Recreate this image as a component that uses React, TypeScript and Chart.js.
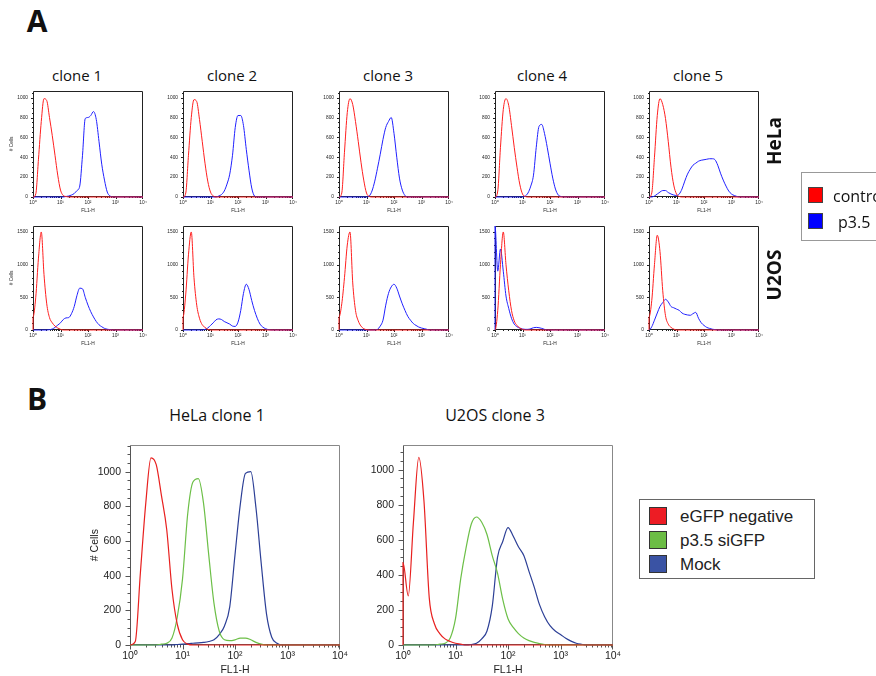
import React, { useEffect, useRef } from 'react';
import { Chart, registerables } from 'chart.js';

Chart.register(...registerables);

// ---------- shared axes ----------
// FL1-H channel values (log grid, 0.1 decade); first entry repeats 10^0 for the left-edge baseline.
const FL1_CHANNELS = [
  1,
  1, 1.26, 1.58, 2, 2.51, 3.16, 3.98, 5.01, 6.31, 7.94,
  10, 12.6, 15.8, 20, 25.1, 31.6, 39.8, 50.1, 63.1, 79.4,
  100, 126, 158, 200, 251, 316, 398, 501, 631, 794,
  1000, 1259, 1585, 1995, 2512, 3162, 3981, 5012, 6310, 7943,
  10000,
];
const X_TICK_VALUES = [1, 10, 100, 1000, 10000];
const X_TICK_LABELS = ['10⁰', '10¹', '10²', '10³', '10⁴'];
const HELA_Y_TICKS = [0, 200, 400, 600, 800, 1000];
const U2OS_Y_TICKS = [0, 500, 1000, 1500];
const B_Y_TICKS = [0, 200, 400, 600, 800, 1000];
const CLONES = ['clone 1', 'clone 2', 'clone 3', 'clone 4', 'clone 5'];

// ---------- panel A : HeLa ----------
const helaC1Control = [0,
  0, 30, 380, 760, 990, 970, 800, 620, 420, 220,
  70, 15, 5, 0, 0, 0, 0, 0, 0, 0,
  0, 0, 0, 0, 0, 0, 0, 0, 0, 0,
  0, 0, 0, 0, 0, 0, 0, 0, 0, 0,
  0];
const helaC1P35 = [0,
  0, 0, 0, 0, 0, 0, 0, 0, 0, 0,
  0, 0, 5, 10, 20, 35, 65, 110, 420, 790,
  800, 820, 860, 780, 560, 330, 170, 50, 10, 0,
  0, 0, 0, 0, 0, 0, 0, 0, 0, 0,
  0];
const helaC2Control = [0,
  0, 40, 420, 800, 980, 960, 780, 560, 340, 160,
  50, 10, 0, 0, 0, 0, 0, 0, 0, 0,
  0, 0, 0, 0, 0, 0, 0, 0, 0, 0,
  0, 0, 0, 0, 0, 0, 0, 0, 0, 0,
  0];
const helaC2P35 = [0,
  0, 0, 0, 0, 0, 0, 0, 0, 0, 0,
  0, 0, 0, 10, 25, 60, 130, 230, 420, 700,
  820, 820, 720, 480, 270, 90, 10, 0, 0, 0,
  0, 0, 0, 0, 0, 0, 0, 0, 0, 0,
  0];
const helaC3Control = [0,
  0, 40, 450, 850, 990, 930, 760, 560, 350, 170,
  40, 5, 0, 0, 0, 0, 0, 0, 0, 0,
  0, 0, 0, 0, 0, 0, 0, 0, 0, 0,
  0, 0, 0, 0, 0, 0, 0, 0, 0, 0,
  0];
const helaC3P35 = [0,
  0, 0, 0, 0, 0, 0, 0, 0, 0, 0,
  0, 10, 60, 160, 290, 430, 580, 700, 760, 800,
  640, 400, 190, 70, 15, 0, 0, 0, 0, 0,
  0, 0, 0, 0, 0, 0, 0, 0, 0, 0,
  0];
const helaC4Control = [0,
  0, 60, 500, 880, 990, 920, 720, 500, 300, 130,
  30, 5, 0, 0, 0, 0, 0, 0, 0, 0,
  0, 0, 0, 0, 0, 0, 0, 0, 0, 0,
  0, 0, 0, 0, 0, 0, 0, 0, 0, 0,
  0];
const helaC4P35 = [0,
  0, 0, 0, 0, 0, 0, 0, 0, 0, 0,
  0, 10, 40, 110, 220, 500, 710, 730, 640, 500,
  340, 190, 80, 20, 5, 0, 0, 0, 0, 0,
  0, 0, 0, 0, 0, 0, 0, 0, 0, 0,
  0];
const helaC5Control = [0,
  0, 40, 400, 820, 990, 930, 790, 560, 300, 120,
  30, 5, 0, 0, 0, 0, 0, 0, 0, 0,
  0, 0, 0, 0, 0, 0, 0, 0, 0, 0,
  0, 0, 0, 0, 0, 0, 0, 0, 0, 0,
  0];
const helaC5P35 = [0,
  0, 0, 10, 30, 50, 65, 65, 45, 30, 20,
  15, 30, 80, 160, 230, 280, 320, 340, 360, 370,
  375, 380, 385, 385, 375, 320, 240, 170, 110, 60,
  30, 15, 5, 0, 0, 0, 0, 0, 0, 0,
  0];

// ---------- panel A : U2OS ----------
const u2osC1Control = [0,
  200, 500, 1100, 1500, 850, 400, 190, 110, 60, 30,
  10, 0, 0, 0, 0, 0, 0, 0, 0, 0,
  0, 0, 0, 0, 0, 0, 0, 0, 0, 0,
  0, 0, 0, 0, 0, 0, 0, 0, 0, 0,
  0];
const u2osC1P35 = [0,
  0, 0, 0, 0, 0, 0, 5, 15, 40, 75,
  110, 160, 185, 190, 250, 360, 530, 640, 630, 500,
  380, 280, 200, 130, 80, 50, 25, 12, 5, 0,
  0, 0, 0, 0, 0, 0, 0, 0, 0, 0,
  0];
const u2osC2Control = [0,
  200, 550, 1150, 1500, 800, 380, 180, 80, 40, 10,
  0, 0, 0, 0, 0, 0, 0, 0, 0, 0,
  0, 0, 0, 0, 0, 0, 0, 0, 0, 0,
  0, 0, 0, 0, 0, 0, 0, 0, 0, 0,
  0];
const u2osC2P35 = [0,
  0, 0, 0, 0, 0, 0, 0, 0, 10, 30,
  70, 110, 155, 170, 160, 130, 110, 90, 60, 55,
  120, 300, 560, 700, 620, 450, 300, 180, 90, 45,
  20, 5, 0, 0, 0, 0, 0, 0, 0, 0,
  0];
const u2osC3Control = [0,
  200, 400, 800, 1300, 1500, 720, 300, 140, 60, 20,
  5, 0, 0, 0, 0, 0, 0, 0, 0, 0,
  0, 0, 0, 0, 0, 0, 0, 0, 0, 0,
  0, 0, 0, 0, 0, 0, 0, 0, 0, 0,
  0];
const u2osC3P35 = [0,
  0, 0, 0, 0, 0, 0, 0, 0, 0, 0,
  0, 0, 0, 0, 10, 60, 150, 380, 560, 660,
  700, 640, 520, 400, 300, 210, 150, 100, 70, 45,
  30, 20, 10, 0, 0, 0, 0, 0, 0, 0,
  0];
const u2osC4Control = [0,
  0, 300, 1000, 1500, 1000, 600, 300, 140, 70, 30,
  10, 0, 0, 0, 0, 0, 0, 0, 0, 0,
  0, 0, 0, 0, 0, 0, 0, 0, 0, 0,
  0, 0, 0, 0, 0, 0, 0, 0, 0, 0,
  0];
const u2osC4P35 = [0,
  1590, 900, 1240, 900, 520, 330, 180, 90, 50, 30,
  15, 10, 10, 20, 35, 40, 35, 25, 10, 0,
  0, 0, 0, 0, 0, 0, 0, 0, 0, 0,
  0, 0, 0, 0, 0, 0, 0, 0, 0, 0,
  0];
const u2osC5Control = [0,
  200, 450, 1000, 1450, 1200, 600, 220, 90, 40, 15,
  0, 0, 0, 0, 0, 0, 0, 0, 0, 0,
  0, 0, 0, 0, 0, 0, 0, 0, 0, 0,
  0, 0, 0, 0, 0, 0, 0, 0, 0, 0,
  0];
const u2osC5P35 = [0,
  0, 50, 150, 260, 360, 420, 470, 430, 360, 340,
  320, 300, 260, 240, 230, 225, 250, 270, 180, 110,
  70, 40, 25, 12, 6, 0, 0, 0, 0, 0,
  0, 0, 0, 0, 0, 0, 0, 0, 0, 0,
  0];

// ---------- panel B ----------
const bHelaNegative = [0,
  0, 20, 420, 820, 1080, 1040, 860, 665, 320, 120,
  30, 5, 0, 0, 0, 0, 0, 0, 0, 0,
  0, 0, 0, 0, 0, 0, 0, 0, 0, 0,
  0, 0, 0, 0, 0, 0, 0, 0, 0, 0,
  0];
const bHelaSiGFP = [0,
  0, 0, 0, 0, 0, 0, 5, 10, 40, 160,
  380, 760, 940, 960, 820, 520, 240, 80, 30, 25,
  30, 40, 40, 30, 15, 5, 0, 0, 0, 0,
  0, 0, 0, 0, 0, 0, 0, 0, 0, 0,
  0];
const bHelaMock = [0,
  0, 0, 0, 0, 0, 0, 0, 0, 0, 3,
  5, 8, 10, 12, 15, 20, 30, 60, 110, 220,
  520, 810, 990, 1000, 790, 470, 180, 45, 10, 0,
  0, 0, 0, 0, 0, 0, 0, 0, 0, 0,
  0];
const bU2osNegative = [0,
  470, 280, 700, 1070, 820, 270, 120, 65, 35, 20,
  10, 5, 0, 0, 0, 0, 0, 0, 0, 0,
  0, 0, 0, 0, 0, 0, 0, 0, 0, 0,
  0, 0, 0, 0, 0, 0, 0, 0, 0, 0,
  0];
const bU2osSiGFP = [0,
  0, 0, 0, 0, 0, 0, 0, 5, 10, 40,
  150, 380, 550, 690, 730, 700, 630, 510, 410, 260,
  150, 100, 65, 40, 25, 15, 8, 3, 0, 0,
  0, 0, 0, 0, 0, 0, 0, 0, 0, 0,
  0];
const bU2osMock = [0,
  0, 0, 0, 0, 0, 0, 0, 0, 0, 0,
  0, 0, 0, 3, 10, 35, 80, 220, 500, 590,
  670, 620, 560, 510, 420, 330, 230, 160, 110, 80,
  60, 38, 22, 10, 4, 0, 0, 0, 0, 0,
  0];

const HELA_CONTROL = [helaC1Control, helaC2Control, helaC3Control, helaC4Control, helaC5Control];
const HELA_P35 = [helaC1P35, helaC2P35, helaC3P35, helaC4P35, helaC5P35];
const U2OS_CONTROL = [u2osC1Control, u2osC2Control, u2osC3Control, u2osC4Control, u2osC5Control];
const U2OS_P35 = [u2osC1P35, u2osC2P35, u2osC3P35, u2osC4P35, u2osC5P35];

// ---------- layout / style ----------
const SANS = '"Liberation Sans", Arial, sans-serif';
const HUMANIST = '"Open Sans", "Noto Sans", sans-serif';
const A_RED = '#ff1f1f';
const A_BLUE = '#2020ff';
const B_RED = '#e8201f';
const B_GREEN = '#6cbf47';
const B_BLUE = '#2c3f96';
const MINI_LEFTS = [33, 183, 339, 495, 649];
const TITLE_CENTERS = [77, 232, 388, 542, 698];

const frameTicks = {
  id: 'frameTicks',
  beforeDatasetsDraw(chart: any, _args: any, o: any) {
    const { ctx, chartArea: a, scales } = chart;
    const xs = scales.x;
    const ys = scales.y;
    const L = Math.round(a.left) + 0.5;
    const R = Math.round(a.right) - 0.5;
    const T = Math.round(a.top) + 0.5;
    const B = Math.round(a.bottom) - 0.5;
    ctx.save();
    ctx.lineWidth = 1;
    ctx.strokeStyle = o.frameColor;
    ctx.beginPath();
    ctx.moveTo(L, T); ctx.lineTo(R, T); ctx.lineTo(R, B);
    ctx.stroke();
    ctx.strokeStyle = o.axisColor;
    ctx.beginPath();
    ctx.moveTo(L, T); ctx.lineTo(L, B); ctx.lineTo(R, B);
    for (let k = 0; k < 4; k++) {
      for (let m = 1; m <= 9; m++) {
        const px = Math.round(xs.getPixelForValue(m * Math.pow(10, k))) + 0.5;
        const len = m === 1 ? o.major : o.minor;
        ctx.moveTo(px, B); ctx.lineTo(px, B + len);
      }
    }
    const pxEnd = Math.round(xs.getPixelForValue(10000)) - 0.5;
    ctx.moveTo(pxEnd, B); ctx.lineTo(pxEnd, B + o.major);
    for (let v = 0; v <= ys.max; v += o.yMinor) {
      const py = Math.round(ys.getPixelForValue(v)) + 0.5;
      const len = v % o.yMajor === 0 ? o.major : o.minor;
      ctx.moveTo(L - len, py); ctx.lineTo(L, py);
    }
    ctx.stroke();
    ctx.restore();
  },
};

type Series = { values: number[]; color: string };
type HistoProps = {
  left: number; top: number; width: number; height: number;
  padL: number; padT: number; padR: number; padB: number;
  ymax: number; yTicks: number[]; yMajor: number; yMinor: number;
  series: Series[]; lineWidth: number; fontSize: number;
  yTitle?: string; yTitlePad: number; xTitlePad: number; yTickPad: number; xTickPad: number;
  major: number; minor: number; axisColor: string; frameColor: string; textColor: string;
};

function Histo(p: HistoProps) {
  const ref = useRef<HTMLCanvasElement>(null);
  const w = p.padL + p.width + p.padR;
  const h = p.padT + p.height + p.padB;
  useEffect(() => {
    const canvas = ref.current as HTMLCanvasElement;
    const font = { family: SANS, size: p.fontSize, lineHeight: 1.2 };
    const chart = new Chart(canvas, {
      type: 'line',
      data: {
        datasets: p.series.map((s) => ({
          data: FL1_CHANNELS.map((x, i) => ({ x, y: s.values[i] })),
          borderColor: s.color,
          borderWidth: p.lineWidth,
          pointRadius: 0,
          cubicInterpolationMode: 'monotone',
          fill: false,
          clip: false,
        })),
      },
      options: {
        responsive: false,
        animation: false,
        devicePixelRatio: 1,
        events: [],
        layout: { padding: { top: p.padT, right: p.padR, left: 0, bottom: 0 } },
        plugins: {
          legend: { display: false },
          tooltip: { enabled: false },
          frameTicks: {
            frameColor: p.frameColor, axisColor: p.axisColor,
            major: p.major, minor: p.minor, yMajor: p.yMajor, yMinor: p.yMinor,
          },
        },
        scales: {
          x: {
            type: 'logarithmic',
            min: 1,
            max: 10000,
            afterBuildTicks: (s: any) => { s.ticks = X_TICK_VALUES.map((v) => ({ value: v })); },
            afterFit: (s: any) => { s.height = p.padB; },
            grid: { display: false, drawTicks: false },
            border: { display: false },
            ticks: {
              font, color: p.textColor, padding: p.xTickPad, maxRotation: 0, autoSkip: false,
              callback: (_v: any, i: number) => X_TICK_LABELS[i],
            },
            title: { display: true, text: 'FL1-H', font, color: p.textColor, padding: { top: 0, bottom: p.xTitlePad } },
          },
          y: {
            type: 'linear',
            min: 0,
            max: p.ymax,
            afterBuildTicks: (s: any) => { s.ticks = p.yTicks.map((v) => ({ value: v })); },
            afterFit: (s: any) => { s.width = p.padL; },
            grid: { display: false, drawTicks: false },
            border: { display: false },
            ticks: { font, color: p.textColor, padding: p.yTickPad, callback: (v: any) => String(v) },
            title: { display: !!p.yTitle, text: p.yTitle || '', font, color: p.textColor, padding: { top: p.yTitlePad, bottom: 0 } },
          },
        },
      } as any,
      plugins: [frameTicks as any],
    });
    return () => chart.destroy();
  }, []);
  return (
    <canvas
      ref={ref}
      width={w}
      height={h}
      style={{ position: 'absolute', left: p.left - p.padL, top: p.top - p.padT, width: w, height: h }}
    />
  );
}

function Txt(props: { x: number; y: number; text: string; size: number; weight?: number; family?: string; rotate?: boolean; align?: 'center' | 'left'; color?: string }) {
  const tx = props.align === 'left' ? '0' : '-50%';
  return (
    <div
      style={{
        position: 'absolute', left: props.x, top: props.y, fontSize: props.size,
        fontWeight: props.weight || 400, fontFamily: props.family || HUMANIST, lineHeight: 1,
        whiteSpace: 'nowrap', color: props.color || '#111',
        transform: `translate(${tx}, -50%)${props.rotate ? ' rotate(-90deg)' : ''}`,
      }}
    >
      {props.text}
    </div>
  );
}

function Swatch(props: { x: number; y: number; w: number; h: number; color: string; border: string }) {
  return (
    <div style={{ position: 'absolute', left: props.x, top: props.y, width: props.w, height: props.h, background: props.color, border: `1px solid ${props.border}`, boxSizing: 'border-box' }} />
  );
}

const miniCommon = {
  width: 110, padL: 30, padT: 4, padR: 10, padB: 22,
  lineWidth: 1, fontSize: 4.8, yTitlePad: 6, xTitlePad: 5, yTickPad: 5, xTickPad: 2.5,
  major: 2.5, minor: 1.5, axisColor: '#222', frameColor: '#222', textColor: '#222',
};

const bigCommon = {
  top: 435, width: 210, height: 210, padL: 50, padT: 5, padR: 14, padB: 31,
  yTicks: B_Y_TICKS, yMajor: 200, yMinor: 50,
  lineWidth: 1.2, fontSize: 10.5, yTitlePad: 9, xTitlePad: 0, yTickPad: 9, xTickPad: 5,
  major: 5, minor: 3, axisColor: '#555', frameColor: '#888', textColor: '#222',
};

export default function App() {
  return (
    <div style={{ position: 'absolute', left: 0, top: 0, width: 876, height: 676, overflow: 'hidden', background: '#fff' }}>
      <Txt x={37} y={21} text="A" size={30} weight={700} />
      <Txt x={37} y={399} text="B" size={30} weight={700} />

      {CLONES.map((c, i) => (
        <Txt key={c} x={TITLE_CENTERS[i]} y={75} text={c} size={15} />
      ))}

      {CLONES.map((c, i) => (
        <Histo
          key={'h' + c}
          {...miniCommon}
          left={MINI_LEFTS[i]} top={87} height={110}
          ymax={1068} yTicks={HELA_Y_TICKS} yMajor={200} yMinor={50}
          yTitle={i === 0 ? '# Cells' : undefined}
          series={[{ values: HELA_CONTROL[i], color: A_RED }, { values: HELA_P35[i], color: A_BLUE }]}
        />
      ))}
      {CLONES.map((c, i) => (
        <Histo
          key={'u' + c}
          {...miniCommon}
          left={MINI_LEFTS[i]} top={222} height={108}
          ymax={1593} yTicks={U2OS_Y_TICKS} yMajor={500} yMinor={100}
          yTitle={i === 0 ? '# Cells' : undefined}
          series={[{ values: U2OS_CONTROL[i], color: A_RED }, { values: U2OS_P35[i], color: A_BLUE }]}
        />
      ))}

      <Txt x={774} y={141} text="HeLa" size={19} weight={700} rotate />
      <Txt x={774} y={275} text="U2OS" size={19} weight={700} rotate />

      <div style={{ position: 'absolute', left: 801, top: 172, width: 120, height: 69, border: '1px solid #999', boxSizing: 'border-box' }} />
      <Swatch x={808} y={187} w={15} h={16} color="#ff0000" border="#444" />
      <Swatch x={808} y={213} w={15} h={16} color="#0000ff" border="#444" />
      <Txt x={833} y={196} text="control" size={16} align="left" />
      <Txt x={838} y={222} text="p3.5" size={16} align="left" />

      <Txt x={217} y={415} text="HeLa clone 1" size={16} />
      <Txt x={495} y={415} text="U2OS clone 3" size={16} />

      <Histo
        {...bigCommon}
        left={130} ymax={1152} yTitle="# Cells"
        series={[{ values: bHelaNegative, color: B_RED }, { values: bHelaSiGFP, color: B_GREEN }, { values: bHelaMock, color: B_BLUE }]}
      />
      <Histo
        {...bigCommon}
        left={403} ymax={1139}
        series={[{ values: bU2osNegative, color: B_RED }, { values: bU2osSiGFP, color: B_GREEN }, { values: bU2osMock, color: B_BLUE }]}
      />

      <div style={{ position: 'absolute', left: 639, top: 499, width: 176, height: 80, border: '1px solid #666', boxSizing: 'border-box' }} />
      <Swatch x={649} y={507} w={18} h={18} color="#ed1c24" border="#333" />
      <Swatch x={649} y={531} w={18} h={18} color="#6cbd45" border="#333" />
      <Swatch x={649} y={555} w={18} h={18} color="#3a53a4" border="#333" />
      <Txt x={680} y={516} text="eGFP negative" size={17} family={SANS} align="left" color="#222" />
      <Txt x={680} y={540} text="p3.5 siGFP" size={17} family={SANS} align="left" color="#222" />
      <Txt x={680} y={564} text="Mock" size={17} family={SANS} align="left" color="#222" />
    </div>
  );
}
